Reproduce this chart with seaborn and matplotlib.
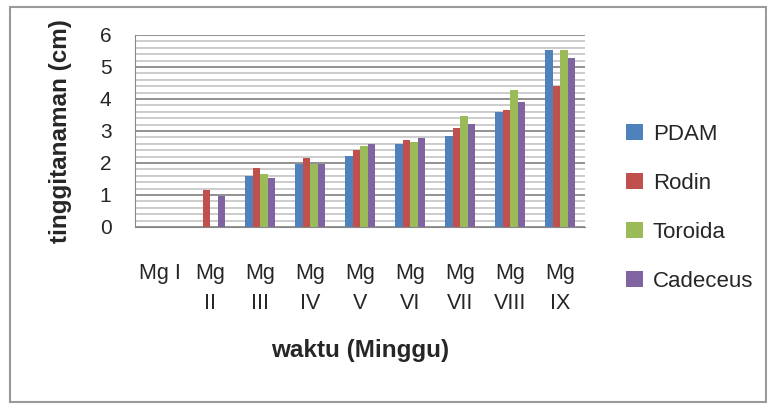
import numpy as np
import pandas as pd
import seaborn as sns
import matplotlib.pyplot as plt
from matplotlib.patches import Rectangle
from matplotlib.ticker import MultipleLocator

minggu = ['Mg I', 'Mg II', 'Mg III', 'Mg IV', 'Mg V', 'Mg VI', 'Mg VII', 'Mg VIII', 'Mg IX']
tick_labels = ['Mg I', 'Mg\nII', 'Mg\nIII', 'Mg\nIV', 'Mg\nV', 'Mg\nVI', 'Mg\nVII', 'Mg\nVIII', 'Mg\nIX']
pdam = [0, 0, 1.60, 1.97, 2.22, 2.59, 2.85, 3.60, 5.53]
rodin = [0, 1.15, 1.85, 2.16, 2.41, 2.72, 3.10, 3.66, 4.40]
toroida = [0, 0, 1.66, 1.97, 2.54, 2.65, 3.47, 4.28, 5.53]
cadeceus = [0, 0.97, 1.53, 1.97, 2.60, 2.78, 3.21, 3.91, 5.28]
series = ['PDAM', 'Rodin', 'Toroida', 'Cadeceus']
colors = ['#4F81BD', '#C0504D', '#9BBB59', '#8064A2']

df = pd.DataFrame({'waktu': minggu * 4,
                   'tinggi': pdam + rodin + toroida + cadeceus,
                   'perlakuan': np.repeat(series, len(minggu))})

sns.set_style('white')
plt.rcParams['font.family'] = ['Liberation Sans', 'DejaVu Sans']

fig = plt.figure(figsize=(7.67, 4.05), dpi=100)
# plot area: x 135..585 px, y 35..227 px
ax = fig.add_axes([135 / 767, 1 - 227 / 405, 450 / 767, 192 / 405])
sns.barplot(data=df, x='waktu', y='tinggi', hue='perlakuan', palette=colors,
            width=0.6, gap=0, saturation=1, ax=ax, linewidth=0)

ax.set_ylim(0, 6)
ax.set_xlim(-0.5, 8.5)
ax.yaxis.set_major_locator(MultipleLocator(1))
ax.yaxis.set_minor_locator(MultipleLocator(0.2))
ax.grid(which='minor', axis='y', color='#c4c4c4', linewidth=1.2)
ax.grid(which='major', axis='y', color='#888888', linewidth=1.3)
ax.set_axisbelow(True)
for s in ['top', 'right']:
    ax.spines[s].set_visible(False)
ax.spines['left'].set_color('#888888')
ax.spines['bottom'].set_color('#888888')
ax.tick_params(axis='y', which='major', length=6, width=1.3, color='#888888', labelsize=15, pad=11)
ax.tick_params(axis='y', which='minor', length=0)
ax.tick_params(axis='x', length=0, labelsize=15.5, pad=26)
ax.set_xticks(range(len(minggu)))
ax.set_xticklabels(tick_labels, va='top', linespacing=1.55)

ax.set_xlabel('waktu (Minggu)', fontsize=17.5, fontweight='bold', labelpad=18)
ax.set_ylabel('tinggitanaman (cm)', fontsize=17.5, fontweight='bold')
ax.yaxis.set_label_coords(-0.14, 0.5)

ax.legend(loc='center left', bbox_to_anchor=(626 / 767, 1 - 208 / 405),
          bbox_transform=fig.transFigure, frameon=False, fontsize=16,
          borderaxespad=0, borderpad=0,
          handlelength=0.75, handleheight=0.75, labelspacing=1.26, handletextpad=0.45)

fig.patches.append(Rectangle((10 / 767, 3 / 405), 756 / 767, 395 / 405, transform=fig.transFigure,
                             fill=False, edgecolor='#9a9a9a', linewidth=1.5))

fig.savefig('out.png', dpi=100)
